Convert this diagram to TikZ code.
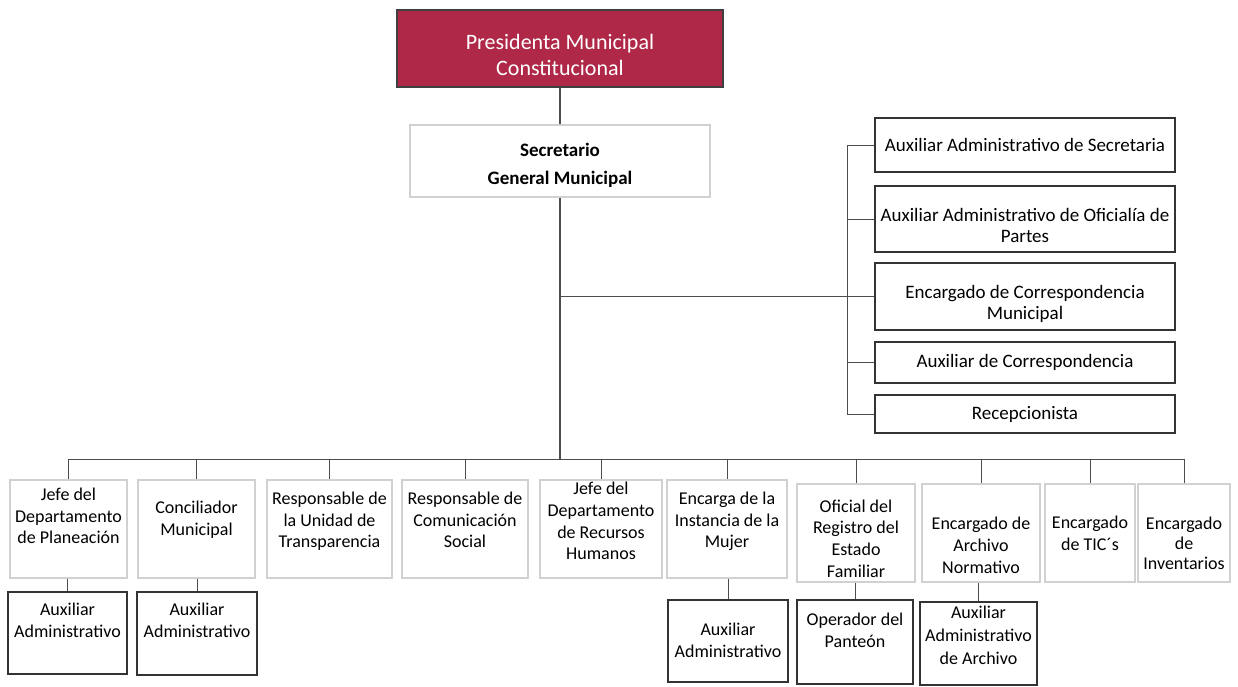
\documentclass[tikz,border=0pt]{standalone}
\usepackage{fontspec}
\setmainfont{Carlito}
\usepackage{tikz}
\definecolor{presred}{RGB}{176,40,72}
\tikzset{
	puesto/.style={draw=black!80, line width=0.8pt, align=center, inner sep=0.5pt, font=\fontsize{9.5}{10.5}\selectfont},
	area/.style={draw=black!18, line width=0.6pt, align=center, inner sep=0.5pt, minimum height=49pt, text depth=#1, font=\fontsize{9}{10.8}\selectfont},
	area/.default=9pt,
	aux/.style={draw=black!80, line width=0.8pt, align=center, inner sep=0.5pt, text depth=#1, font=\fontsize{9}{11}\selectfont},
	aux/.default=13pt,
	% texto mas abajo: ultima linea a #1/2 bajo el centro
	bajo/.style={text height=#1, text depth=0pt},
	linea/.style={draw=black!70, line width=0.5pt}
}
\begin{document}
\begin{tikzpicture}[x=0.5pt, y=-0.5pt]
			%%%%% START %%%%%
			\useasboundingbox (0, 0) rectangle (1238, 686);
			
			\node[draw=black!75, line width=1pt, fill=presred, text=white, align=center, minimum width=163pt, minimum height=38.5pt, bajo=27pt, font=\fontsize{11}{13}\selectfont] (pres) at (560, 48.5) {Presidenta Municipal\\Constitucional};
			\node[draw=black!18, line width=0.6pt, align=center, minimum width=150pt, minimum height=36pt, bajo=23pt, font=\fontsize{9.5}{14}\selectfont\bfseries] (sec) at (560, 161) {Secretario\\General Municipal};
			
			\node[puesto, minimum width=150pt, minimum height=27pt] (r1) at (1025, 145) {Auxiliar Administrativo de Secretaria};
			\node[puesto, minimum width=150pt, minimum height=33pt, bajo=23.5pt] (r2) at (1025, 219) {Auxiliar Administrativo de Oficialía de\\Partes};
			\node[puesto, minimum width=150pt, minimum height=33.5pt, bajo=23pt] (r3) at (1025, 296.5) {Encargado de Correspondencia\\Municipal};
			\node[puesto, minimum width=150pt, minimum height=20.5pt] (r4) at (1025, 362.5) {Auxiliar de Correspondencia};
			\node[puesto, minimum width=150pt, minimum height=19pt] (r5) at (1025, 414) {Recepcionista};
			
			\coordinate (rbus) at (847, 296.5);
			\coordinate (bus) at (560, 459);
			
			\node[area=13pt, minimum width=58.5pt] (b1) at (68.5, 529) {Jefe del\\Departamento\\de Planeación};
			\node[area=11pt, minimum width=58.5pt] (b2) at (196.5, 529) {Conciliador\\Municipal};
			\node[area, minimum width=62.5pt] (b3) at (329.5, 529) {Responsable de\\la Unidad de\\Transparencia};
			\node[area, minimum width=63pt] (b4) at (465, 529) {Responsable de\\Comunicación\\Social};
			\node[area=8pt, minimum width=61pt] (b5) at (601, 529) {Jefe del\\Departamento\\de Recursos\\Humanos};
			\node[area, minimum width=60pt] (b6) at (727, 529) {Encarga de la\\Instancia de la\\Mujer};
			\node[area, bajo=44pt, minimum width=59pt] (b7) at (856, 533) {Oficial del\\Registro del\\Estado\\Familiar};
			\node[area, bajo=40pt, minimum width=59pt] (b8) at (981, 533) {Encargado de\\Archivo\\Normativo};
			\node[area, bajo=17pt, minimum width=45pt] (b9) at (1090, 533) {Encargado\\de TIC´s};
			\node[area, bajo=36pt, minimum width=46pt, font=\fontsize{9}{10}\selectfont] (b10) at (1184, 533) {Encargado\\de\\Inventarios};
			
			\node[aux, minimum width=59.5pt, minimum height=41pt] (s1) at (67.5, 633) {Auxiliar\\Administrativo};
			\node[aux, minimum width=60pt, minimum height=41.5pt] (s2) at (197, 633.5) {Auxiliar\\Administrativo};
			\node[aux=1pt, minimum width=60pt, minimum height=41pt] (s6) at (728, 641) {Auxiliar\\Administrativo};
			\node[aux=11.5pt, minimum width=58pt, minimum height=42pt] (s7) at (855, 642) {Operador del\\Panteón};
			\node[aux=8.5pt, minimum width=58.5pt, minimum height=41.5pt, font=\fontsize{9}{11.5}\selectfont] (s8) at (978.5, 643.5) {Auxiliar\\Administrativo\\de Archivo};
			
			% lineas
			\draw[linea, line width=0.8pt] (pres.south) -- (sec.north);
			\draw[linea, line width=0.8pt] (sec.south) -- (bus);
			\draw[linea] (sec.south |- rbus) -- (rbus);
			\foreach \r in {r1, r2, r3, r4, r5}
				\draw[linea] (rbus) |- (\r.west);
			\foreach \b in {b1, b2, b3, b4, b5, b6, b7, b8, b9, b10}
				\draw[linea] (bus) -| (\b.north);
			\foreach \b/\s in {b1/s1, b2/s2, b6/s6, b7/s7, b8/s8}
				\draw[linea] (\b.south -| \s.north) -- (\s.north);
			
			%%%%% END %%%%%
		\end{tikzpicture}
\end{document}
